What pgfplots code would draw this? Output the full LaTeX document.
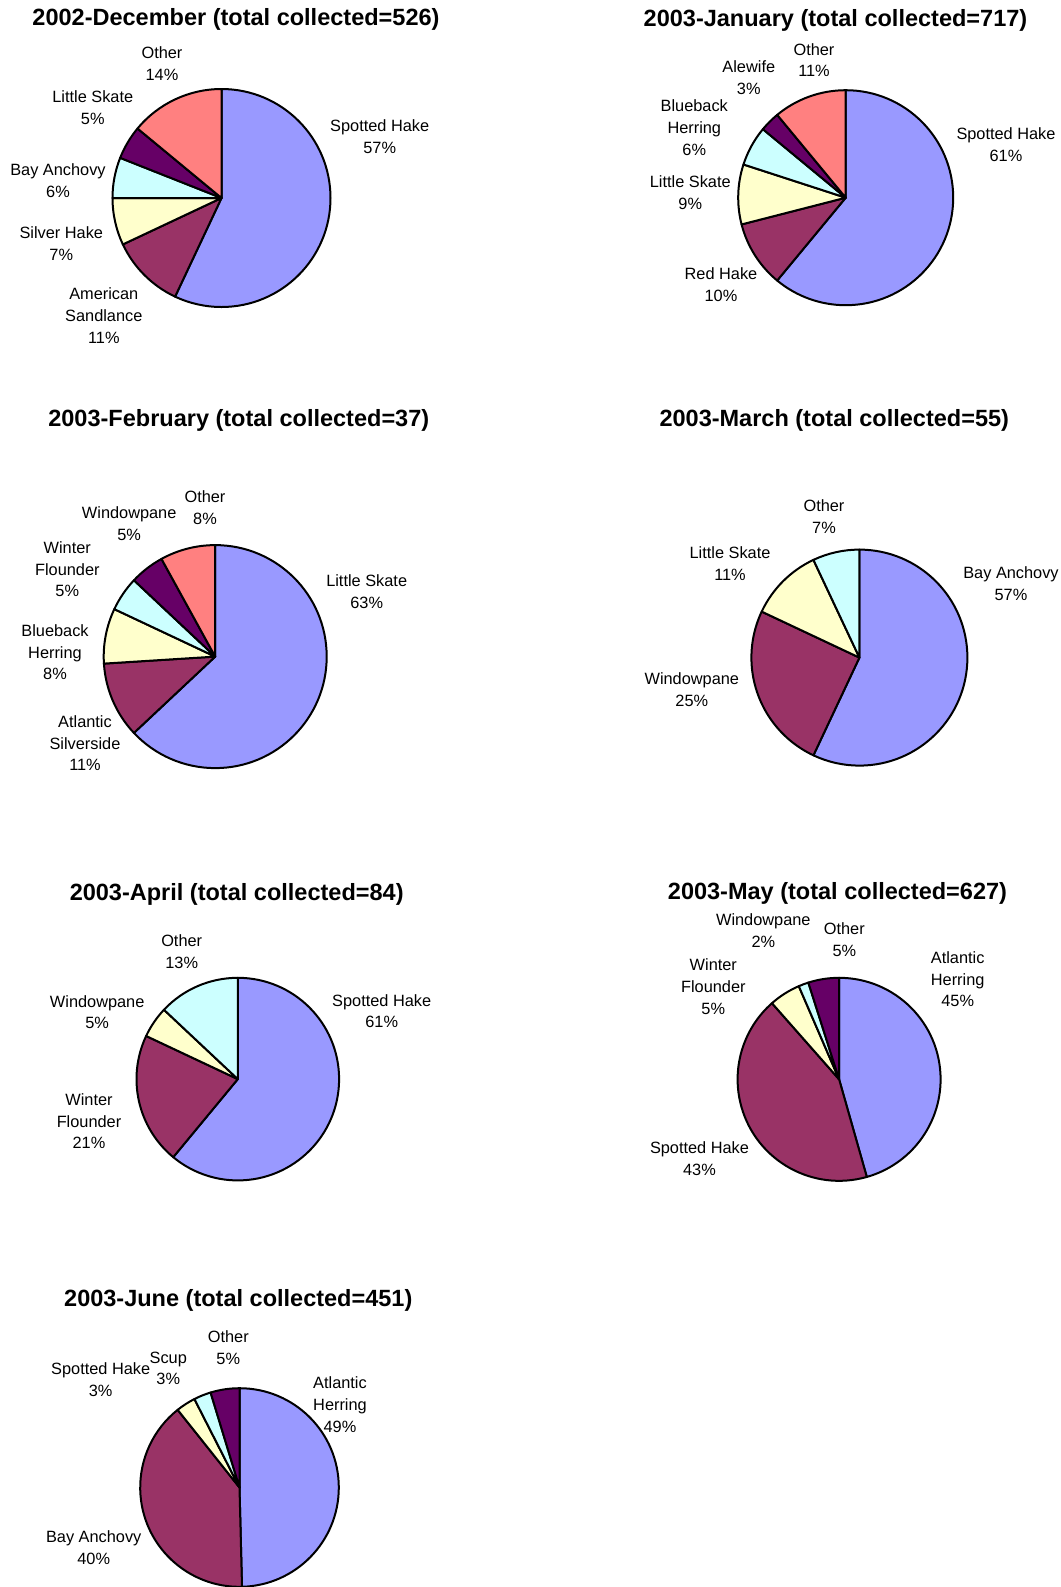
\documentclass[border=0pt]{standalone}
\usepackage{fontspec}
\setmainfont{Liberation Sans}
\usepackage{pgfplots}
\pgfplotsset{compat=1.18}
\definecolor{c1}{HTML}{9999FF}
\definecolor{c2}{HTML}{993366}
\definecolor{c3}{HTML}{FFFFCC}
\definecolor{c4}{HTML}{CCFFFF}
\definecolor{c5}{HTML}{660066}
\definecolor{c6}{HTML}{FF8080}
\tikzset{
  lbl/.style={align=center, inner sep=0pt, font=\fontsize{16.4}{21.8}\selectfont},
  ttl/.style={inner sep=0pt, font=\fontsize{23.6}{28}\selectfont\bfseries}}
% pie: center x, center y (pixels from top), radius, list of percent/colour (clockwise from 12 o'clock)
\newcommand\pie[4]{%
  \pgfplotsextra{%
    \gdef\pieacc{90}%
    \foreach \v/\col in {#4} {%
      \pgfmathsetmacro\pieend{\pieacc-3.6*\v}%
      \draw[fill=\col, line width=2bp, line join=round]
        (axis cs:#1,#2) -- ++(\pieacc:#3bp)
        arc[start angle=\pieacc, end angle=\pieend, radius=#3bp] -- cycle;
      \xdef\pieacc{\pieend}%
    }%
  }%
}
\begin{document}
\begin{tikzpicture}
\begin{axis}[name=ax, scale only axis, width=1061bp, height=1587bp,
  xmin=0, xmax=1061, ymin=0, ymax=1587, y dir=reverse, hide axis, clip=false]

% ---- 2002-December (total 526)
\pie{221.5}{198}{109}{57/c1, 11/c2, 7/c3, 6/c4, 5/c5, 14/c6}
\node[ttl] at (axis cs:236,19) {2002-December (total collected=526)};
\node[lbl] at (axis cs:379.7,136.5) {Spotted Hake\\57\%};
\node[lbl] at (axis cs:103.8,315.5) {American\\Sandlance\\11\%};
\node[lbl] at (axis cs:61.3,243.5) {Silver Hake\\7\%};
\node[lbl] at (axis cs:58,180.5) {Bay Anchovy\\6\%};
\node[lbl] at (axis cs:92.8,107.5) {Little Skate\\5\%};
\node[lbl] at (axis cs:162,63.5) {Other\\14\%};

% ---- 2003-January (total 717)
\pie{845.7}{197.7}{107.5}{61/c1, 10/c2, 9/c3, 6/c4, 3/c5, 11/c6}
\node[ttl] at (axis cs:835.5,20) {2003-January (total collected=717)};
\node[lbl] at (axis cs:1006,145) {Spotted Hake\\61\%};
\node[lbl] at (axis cs:721,284.5) {Red Hake\\10\%};
\node[lbl] at (axis cs:690.3,192.5) {Little Skate\\9\%};
\node[lbl] at (axis cs:694.3,127.7) {Blueback\\Herring\\6\%};
\node[lbl] at (axis cs:748.8,77.5) {Alewife\\3\%};
\node[lbl] at (axis cs:814,60) {Other\\11\%};

% ---- 2003-February (total 37)
\pie{215.2}{656.6}{111.5}{63/c1, 11/c2, 8/c3, 5/c4, 5/c5, 8/c6}
\node[ttl] at (axis cs:238.8,420) {2003-February (total collected=37)};
\node[lbl] at (axis cs:366.7,591.5) {Little Skate\\63\%};
\node[lbl] at (axis cs:85,743.3) {Atlantic\\Silverside\\11\%};
\node[lbl] at (axis cs:55,652.3) {Blueback\\Herring\\8\%};
\node[lbl] at (axis cs:67.3,569.3) {Winter\\Flounder\\5\%};
\node[lbl] at (axis cs:129.2,523.5) {Windowpane\\5\%};
\node[lbl] at (axis cs:205,507.5) {Other\\8\%};

% ---- 2003-March (total 55)
\pie{859.4}{657.6}{108}{57/c1, 25/c2, 11/c3, 7/c4}
\node[ttl] at (axis cs:834.3,420.7) {2003-March (total collected=55)};
\node[lbl] at (axis cs:1011,583.3) {Bay Anchovy\\57\%};
\node[lbl] at (axis cs:691.8,689.5) {Windowpane\\25\%};
\node[lbl] at (axis cs:730,563.3) {Little Skate\\11\%};
\node[lbl] at (axis cs:824,516.8) {Other\\7\%};

% ---- 2003-April (total 84)
\pie{237.8}{1079.1}{101.3}{61/c1, 21/c2, 5/c3, 13/c4}
\node[ttl] at (axis cs:236.7,894.3) {2003-April (total collected=84)};
\node[lbl] at (axis cs:381.7,1011.2) {Spotted Hake\\61\%};
\node[lbl] at (axis cs:89,1121.2) {Winter\\Flounder\\21\%};
\node[lbl] at (axis cs:97.2,1012.2) {Windowpane\\5\%};
\node[lbl] at (axis cs:181.7,951.7) {Other\\13\%};

% ---- 2003-May (total 627)
\pie{839.1}{1079.3}{101.5}{45.6/c1, 42.9/c2, 5.0/c3, 1.6/c4, 4.9/c5}
\node[ttl] at (axis cs:837.5,893.3) {2003-May (total collected=627)};
\node[lbl] at (axis cs:957.7,979.4) {Atlantic\\Herring\\45\%};
\node[lbl] at (axis cs:699.5,1158.8) {Spotted Hake\\43\%};
\node[lbl] at (axis cs:713.3,986.8) {Winter\\Flounder\\5\%};
\node[lbl] at (axis cs:763.3,930.5) {Windowpane\\2\%};
\node[lbl] at (axis cs:844.3,940) {Other\\5\%};

% ---- 2003-June (total 451)
\pie{239.5}{1487.5}{99.3}{49.6/c1, 39.7/c2, 3.2/c3, 2.8/c4, 4.7/c5}
\node[ttl] at (axis cs:238.3,1300.7) {2003-June (total collected=451)};
\node[lbl] at (axis cs:340,1404.8) {Atlantic\\Herring\\49\%};
\node[lbl] at (axis cs:93.7,1547.5) {Bay Anchovy\\40\%};
\node[lbl] at (axis cs:100.7,1379.8) {Spotted Hake\\3\%};
\node[lbl] at (axis cs:168.3,1368.3) {Scup\\3\%};
\node[lbl] at (axis cs:228.3,1347.5) {Other\\5\%};
\end{axis}
\pgfresetboundingbox
\useasboundingbox (ax.south west) rectangle (ax.north east);
\end{tikzpicture}
\end{document}
